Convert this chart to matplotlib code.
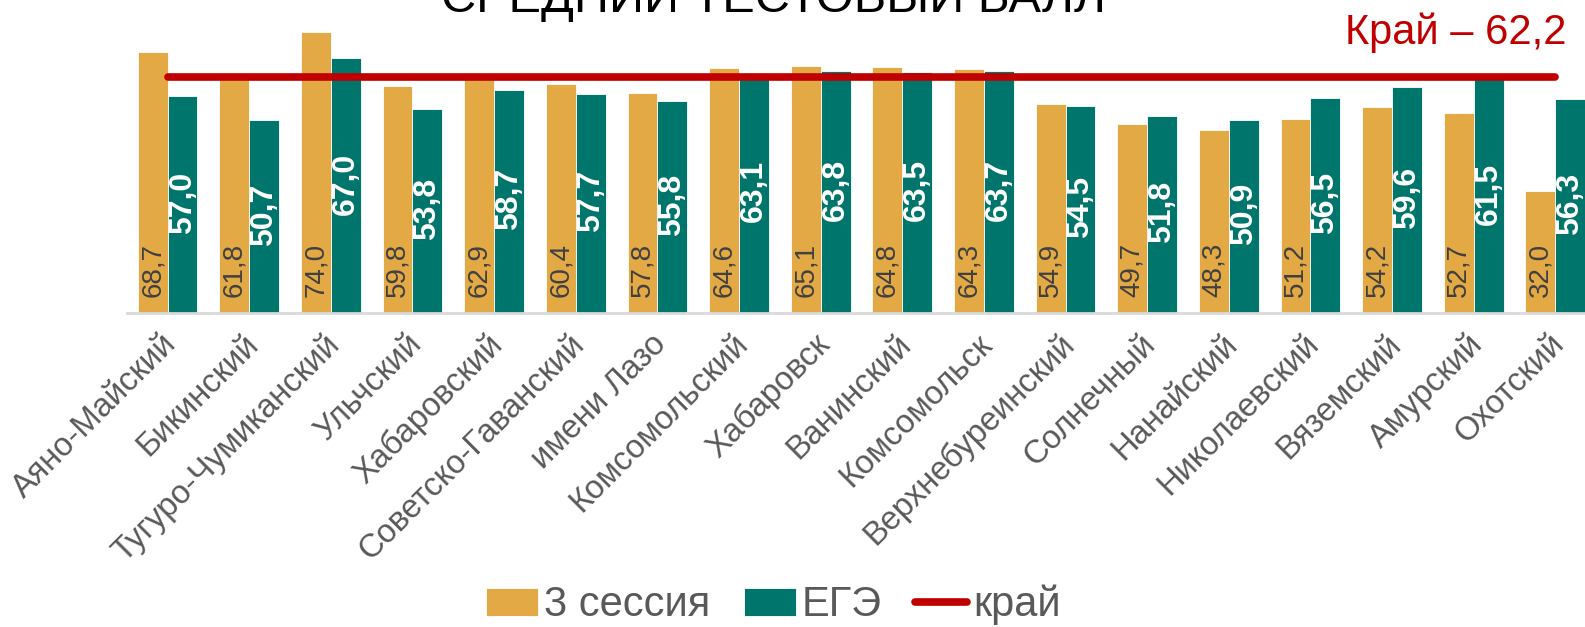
import numpy as np
import matplotlib
matplotlib.use('Agg')
import matplotlib.pyplot as plt
from matplotlib.transforms import ScaledTranslation

# данные: средний тестовый балл по районам
districts = ['Аяно-Майский', 'Бикинский', 'Тугуро-Чумиканский', 'Ульчский', 'Хабаровский',
             'Советско-Гаванский', 'имени Лазо', 'Комсомольский', 'Хабаровск', 'Ванинский',
             'Комсомольск', 'Верхнебуреинский', 'Солнечный', 'Нанайский', 'Николаевский',
             'Вяземский', 'Амурский', 'Охотский']
session3 = [68.7, 61.8, 74.0, 59.8, 62.9, 60.4, 57.8, 64.6, 65.1, 64.8, 64.3, 54.9,
            49.7, 48.3, 51.2, 54.2, 52.7, 32.0]
ege = [57.0, 50.7, 67.0, 53.8, 58.7, 57.7, 55.8, 63.1, 63.8, 63.5, 63.7, 54.5,
       51.8, 50.9, 56.5, 59.6, 61.5, 56.3]
kray = 62.2

orange = '#E3A945'
teal = '#00756B'
red = '#C00000'
gray = '#595959'

plt.rcParams['font.family'] = ['Liberation Sans', 'DejaVu Sans']

fig = plt.figure(figsize=(15.85, 6.27), dpi=100)
ax = fig.add_axes([0.080, 0.5008, 0.927, 0.4992])

x = np.arange(len(districts))
w = 0.366
b1 = ax.bar(x - w / 2, session3, w, color=orange, edgecolor='white', linewidth=0.6, label='3 сессия')
b2 = ax.bar(x + w / 2, ege, w, color=teal, edgecolor='white', linewidth=0.6, label='ЕГЭ')
ax.plot(x, [kray] * len(x), color=red, lw=5.5, solid_capstyle='round', label='край')

#подписи значений
for xi, v in zip(x, session3):
    ax.text(xi - w / 2, 4.2, f'{v:.1f}'.replace('.', ','), rotation=90, ha='center', va='bottom',
            fontsize=20, color='#404040')
for xi, v in zip(x, ege):
    ax.text(xi + w / 2, v / 2 + 0.6, f'{v:.1f}'.replace('.', ','), rotation=90, ha='center', va='center',
            fontsize=23, color='white', fontweight='bold')

ax.set_xlim(-0.5, len(x) - 0.5)
ax.set_ylim(0, 82.4)
ax.set_yticks([])
for s in ['top', 'right', 'left']:
    ax.spines[s].set_visible(False)
ax.spines['bottom'].set_color('#D9D9D9')
ax.spines['bottom'].set_linewidth(2)

ax.set_xticks(x)
ax.set_xticklabels(districts, rotation=45, ha='right', va='center', rotation_mode='anchor',
                   fontsize=23.5, color=gray)
ax.tick_params(axis='x', length=0, pad=19)
for lbl in ax.get_xticklabels():
    lbl.set_transform(lbl.get_transform() + ScaledTranslation(0.04, 0, fig.dpi_scale_trans))

fig.text(0.488, 0.981, 'СРЕДНИЙ ТЕСТОВЫЙ БАЛЛ', ha='center', va='baseline', fontsize=35, color='black')
fig.text(0.9886, 0.948, 'Край – 62,2', ha='right', va='center', fontsize=30, color=red)

fig.legend(handles=[b1, b2, ax.lines[0]], loc='center', bbox_to_anchor=(0.488, 0.035), ncol=3,
           frameon=False, fontsize=30, labelcolor=gray, handlelength=1.25, handleheight=0.65,
           handletextpad=0.15, columnspacing=0.8)

fig.savefig('out.png', dpi=100)
